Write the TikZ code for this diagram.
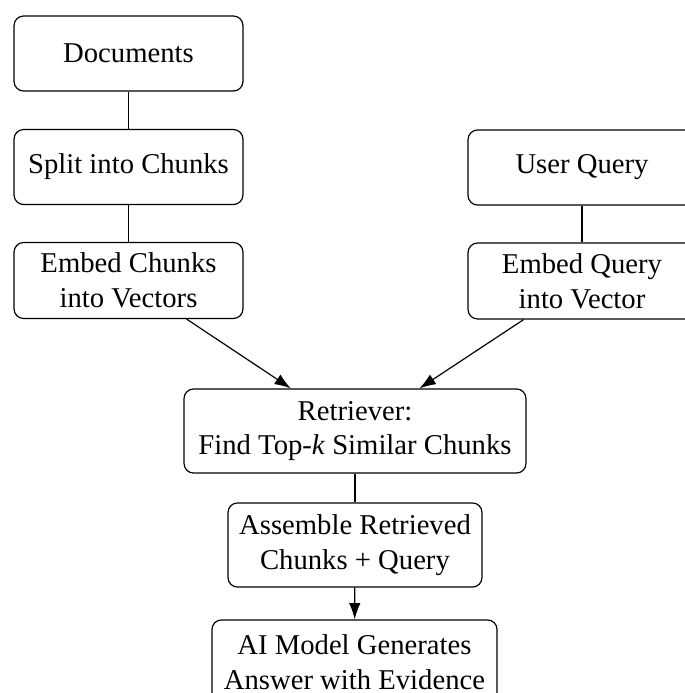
\documentclass[tikz,border=0pt]{standalone}
\usepackage{fontspec}
\setmainfont{Liberation Serif}
\usetikzlibrary{arrows.meta}

\tikzset{
  stagebox/.style={draw, rounded corners=4pt, align=center, inner sep=2pt,
    font=\fontsize{12}{14.6}\selectfont, line width=0.5pt},
  link/.style={line width=0.5pt},
  flow/.style={line width=0.5pt, -{Latex[length=6.8pt,width=4.8pt]}}
}

\begin{document}
\begin{tikzpicture}[x=0.4185pt, y=-0.4185pt]
  % page frame (content past its right and bottom edges is cut off)
  \useasboundingbox (0,0) rectangle (685,693);
  \clip (0,0) rectangle (685,693);

  % document side
  \node[stagebox, minimum width=95.8pt, minimum height=31.4pt] (docs)  at (128.5,53.5)  {Documents};
  \node[stagebox, minimum width=95.8pt, minimum height=31.4pt] (split) at (128.5,167)   {Split into Chunks};
  \node[stagebox, minimum width=95.8pt, minimum height=31.8pt] (embc)  at (128.5,280.5) {Embed Chunks\\into Vectors};

  % query side
  \node[stagebox, minimum width=95.4pt, minimum height=31.4pt] (uq)    at (582,167.5)   {User Query};
  \node[stagebox, minimum width=95.4pt, minimum height=31.8pt] (embq)  at (582,281)     {Embed Query\\into Vector};

  % retrieval and generation
  \node[stagebox, minimum width=143.1pt, minimum height=35.2pt] (retr) at (355,431)   {Retriever:\\Find Top-\textit{k} Similar Chunks};
  \node[stagebox, minimum width=106.3pt, minimum height=35.2pt] (asm)  at (355,545)   {Assemble Retrieved\\Chunks + Query};
  \node[stagebox, minimum width=119.3pt, minimum height=35.2pt] (ai)   at (354.5,662) {AI Model Generates\\Answer with Evidence};

  % connectors
  \draw[link] (docs) -- (split);
  \draw[link] (split) -- (embc);
  \draw[link] (uq) -- (embq);
  \draw[flow] (embc) -- (retr);
  \draw[flow] (embq) -- (retr);
  \draw[link] (retr) -- (asm);
  \draw[flow] (asm) -- (ai);
\end{tikzpicture}
\end{document}
